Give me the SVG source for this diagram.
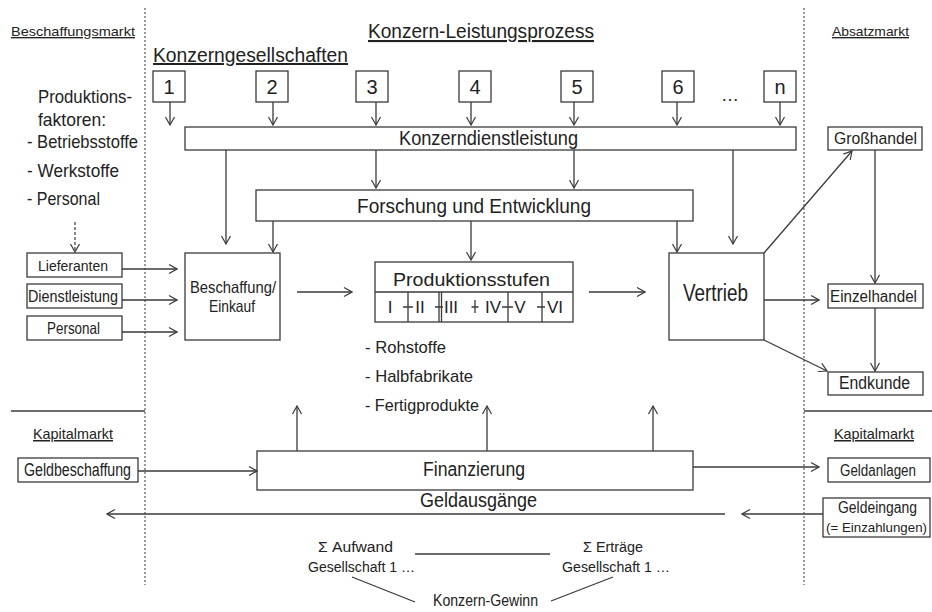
<svg xmlns="http://www.w3.org/2000/svg" width="932" height="612" viewBox="0 0 932 612">
<defs>
<marker id="arr" markerUnits="userSpaceOnUse" markerWidth="12" markerHeight="12" viewBox="0 0 12 12" refX="11" refY="6" orient="auto"><path d="M3,1.5 L11,6 L3,10.5" fill="none" stroke="#3a3a3a" stroke-width="1.2"/></marker>
<style>
text{font-family:"Liberation Sans Narrow","Liberation Sans",Arial,sans-serif;fill:#222}
.box{fill:#fff;stroke:#3a3a3a;stroke-width:1.3}
.ln{fill:none;stroke:#3a3a3a;stroke-width:1.3}
.ar{fill:none;stroke:#3a3a3a;stroke-width:1.3;marker-end:url(#arr)}
.dar{fill:none;stroke:#3a3a3a;stroke-width:1.2;stroke-dasharray:3 2;marker-end:url(#arr)}
.dot{fill:none;stroke:#7a7a7a;stroke-width:1.5;stroke-dasharray:2 2}
.c{text-anchor:middle}
.u{text-decoration:underline}
</style>
</defs>
<rect width="932" height="612" fill="#fff"/>

<g id="regions">
<line class="dot" x1="145" y1="8" x2="145" y2="585"/>
<line class="dot" x1="804" y1="8" x2="804" y2="585"/>
<line class="ln" x1="11" y1="411" x2="145" y2="411"/>
<line class="ln" x1="804" y1="411" x2="932" y2="411"/>
<text class="c u" x="73" y="36" font-size="13.5" textLength="124" lengthAdjust="spacingAndGlyphs">Beschaffungsmarkt</text>
<text class="c u" x="481" y="38" font-size="21" textLength="226" lengthAdjust="spacingAndGlyphs">Konzern-Leistungsprozess</text>
<text class="c u" x="250.5" y="62" font-size="20" textLength="195" lengthAdjust="spacingAndGlyphs">Konzerngesellschaften</text>
<text class="c u" x="870.5" y="36" font-size="13.5" textLength="77" lengthAdjust="spacingAndGlyphs">Absatzmarkt</text>
<text class="c u" x="73" y="439" font-size="15" textLength="80" lengthAdjust="spacingAndGlyphs">Kapitalmarkt</text>
<text class="c u" x="874" y="439" font-size="15" textLength="80" lengthAdjust="spacingAndGlyphs">Kapitalmarkt</text>
</g>

<g id="produktionsfaktoren" font-size="18.5">
<text x="38" y="103" textLength="94" lengthAdjust="spacingAndGlyphs">Produktions-</text>
<text x="38" y="126" textLength="68" lengthAdjust="spacingAndGlyphs">faktoren:</text>
<text x="27" y="148" textLength="111" lengthAdjust="spacingAndGlyphs">- Betriebsstoffe</text>
<text x="27" y="177" textLength="92" lengthAdjust="spacingAndGlyphs">- Werkstoffe</text>
<text x="27" y="205" textLength="73" lengthAdjust="spacingAndGlyphs">- Personal</text>
</g>

<g id="gesellschaften" font-size="20">
<g id="g1"><rect class="box" x="153" y="71" width="32" height="31"/><text class="c" x="169" y="94">1</text></g>
<g id="g2"><rect class="box" x="256" y="71" width="32" height="31"/><text class="c" x="272" y="94">2</text></g>
<g id="g3"><rect class="box" x="356" y="71" width="32" height="31"/><text class="c" x="372" y="94">3</text></g>
<g id="g4"><rect class="box" x="459" y="71" width="32" height="31"/><text class="c" x="475" y="94">4</text></g>
<g id="g5"><rect class="box" x="561" y="71" width="32" height="31"/><text class="c" x="577" y="94">5</text></g>
<g id="g6"><rect class="box" x="662" y="71" width="32" height="31"/><text class="c" x="678" y="94">6</text></g>
<text class="c" x="730" y="101" font-size="18">…</text>
<g id="gn"><rect class="box" x="764" y="71" width="32" height="31"/><text class="c" x="780" y="94">n</text></g>
</g>

<g id="konzerndienstleistung">
<rect class="box" x="185" y="127" width="611" height="23"/>
<text class="c" x="488.5" y="144.5" font-size="20" textLength="179" lengthAdjust="spacingAndGlyphs">Konzerndienstleistung</text>
</g>

<g id="forschung">
<rect class="box" x="256" y="190" width="437" height="31"/>
<text class="c" x="474" y="213" font-size="20.5" textLength="234" lengthAdjust="spacingAndGlyphs">Forschung und Entwicklung</text>
</g>

<g id="lieferanten">
<rect class="box" x="27" y="253" width="95" height="24"/>
<text class="c" x="73" y="270.5" font-size="15.5" textLength="70" lengthAdjust="spacingAndGlyphs">Lieferanten</text>
</g>
<g id="dienstleistung">
<rect class="box" x="27" y="284" width="95" height="24"/>
<text class="c" x="73" y="302" font-size="16" textLength="90" lengthAdjust="spacingAndGlyphs">Dienstleistung</text>
</g>
<g id="personal">
<rect class="box" x="27" y="316" width="95" height="24"/>
<text class="c" x="73.5" y="333.5" font-size="16.5" textLength="53" lengthAdjust="spacingAndGlyphs">Personal</text>
</g>

<g id="beschaffung">
<rect class="box" x="185" y="253" width="95" height="87"/>
<text class="c" x="233" y="293" font-size="16.5" textLength="86" lengthAdjust="spacingAndGlyphs">Beschaffung/</text>
<text class="c" x="232" y="312" font-size="16.5" textLength="46" lengthAdjust="spacingAndGlyphs">Einkauf</text>
</g>

<g id="produktionsstufen">
<rect class="box" x="375" y="262" width="198" height="60"/>
<line class="ln" x1="375" y1="292" x2="573" y2="292"/>
<text class="c" x="471.5" y="286" font-size="18.5" textLength="157" lengthAdjust="spacingAndGlyphs">Produktionsstufen</text>
<path class="ln" d="M408,292 V322 M439,292 V322 M441.5,292 V322 M508,292 V322 M542,292 V322 M475,300 V313"/>
<path class="ln" d="M403,307 H413 M435,307 H443 M471.5,307 H478.5 M502,307 H513 M537,307 H545"/>
<g font-size="17" class="c">
<text x="390" y="313">I</text>
<text x="420" y="313">II</text>
<text x="451" y="313">III</text>
<text x="493" y="313">IV</text>
<text x="520" y="313">V</text>
<text x="555" y="313">VI</text>
</g>
<g font-size="17">
<text x="365" y="352.5" textLength="81" lengthAdjust="spacingAndGlyphs">- Rohstoffe</text>
<text x="365" y="382" textLength="108" lengthAdjust="spacingAndGlyphs">- Halbfabrikate</text>
<text x="365" y="411" textLength="114" lengthAdjust="spacingAndGlyphs">- Fertigprodukte</text>
</g>
</g>

<g id="vertrieb">
<rect class="box" x="669" y="253" width="95" height="87"/>
<text class="c" x="715.5" y="301" font-size="23.5" textLength="65" lengthAdjust="spacingAndGlyphs">Vertrieb</text>
</g>

<g id="grosshandel">
<rect class="box" x="828" y="127" width="94" height="23"/>
<text class="c" x="875.5" y="144" font-size="17" textLength="83" lengthAdjust="spacingAndGlyphs">Großhandel</text>
</g>
<g id="einzelhandel">
<rect class="box" x="828" y="284" width="95" height="24"/>
<text class="c" x="873.5" y="301.5" font-size="16" textLength="87" lengthAdjust="spacingAndGlyphs">Einzelhandel</text>
</g>
<g id="endkunde">
<rect class="box" x="828" y="372" width="95" height="23"/>
<text class="c" x="874.5" y="388.5" font-size="17.5" textLength="71" lengthAdjust="spacingAndGlyphs">Endkunde</text>
</g>

<g id="geldbeschaffung">
<rect class="box" x="18" y="458" width="120" height="24"/>
<text class="c" x="77.5" y="476" font-size="18" textLength="107" lengthAdjust="spacingAndGlyphs">Geldbeschaffung</text>
</g>

<g id="finanzierung">
<rect class="box" x="257" y="451" width="436" height="39"/>
<text class="c" x="474" y="475.5" font-size="20" textLength="102" lengthAdjust="spacingAndGlyphs">Finanzierung</text>
</g>

<g id="geldausgaenge">
<text class="c" x="478.5" y="507" font-size="20" textLength="117" lengthAdjust="spacingAndGlyphs">Geldausgänge</text>
</g>

<g id="geldanlagen">
<rect class="box" x="828" y="458" width="102" height="24"/>
<text class="c" x="878" y="475.5" font-size="16" textLength="76" lengthAdjust="spacingAndGlyphs">Geldanlagen</text>
</g>
<g id="geldeingang">
<rect class="box" x="823" y="498" width="107" height="39"/>
<text class="c" x="877.5" y="512.5" font-size="16" textLength="79" lengthAdjust="spacingAndGlyphs">Geldeingang</text>
<text class="c" x="876.5" y="531.5" font-size="13.5" textLength="101" lengthAdjust="spacingAndGlyphs">(= Einzahlungen)</text>
</g>

<g id="gewinn" font-size="15.5">
<text class="c" x="355.5" y="551.5" textLength="75" lengthAdjust="spacingAndGlyphs">Σ Aufwand</text>
<text class="c" x="361.5" y="571.5" textLength="107" lengthAdjust="spacingAndGlyphs">Gesellschaft 1 …</text>
<text class="c" x="613" y="551.5" textLength="60" lengthAdjust="spacingAndGlyphs">Σ Erträge</text>
<text class="c" x="616" y="571.5" textLength="108" lengthAdjust="spacingAndGlyphs">Gesellschaft 1 …</text>
<text class="c" x="485.5" y="606" font-size="16" textLength="105" lengthAdjust="spacingAndGlyphs">Konzern-Gewinn</text>
</g>

<g id="connectors">
<path class="ar" d="M170,102 V125"/>
<path class="ar" d="M273,102 V125"/>
<path class="ar" d="M376,102 V125"/>
<path class="ar" d="M471,102 V125"/>
<path class="ar" d="M574,102 V125"/>
<path class="ar" d="M677,102 V125"/>
<path class="ar" d="M780,102 V125"/>
<path class="ar" d="M226,150 V244"/>
<path class="ar" d="M376,150 V188"/>
<path class="ar" d="M574,150 V188"/>
<path class="ar" d="M733,150 V244"/>
<path class="ar" d="M273,221 V252"/>
<path class="ar" d="M471,221 V260"/>
<path class="ar" d="M677,221 V252"/>
<path class="dar" d="M75,222 V252"/>
<path class="ar" d="M122,269 H177"/>
<path class="ar" d="M122,300 H177"/>
<path class="ar" d="M122,332 H177"/>
<path class="ar" d="M297,292 H352"/>
<path class="ar" d="M589,292 H645"/>
<path class="ar" d="M764,253 L852,151"/>
<path class="ar" d="M764,300 H819"/>
<path class="ar" d="M764,340 L827,371"/>
<path class="ar" d="M875,150 V283"/>
<path class="ar" d="M875,308 V371"/>
<path class="ar" d="M297,451 V406"/>
<path class="ar" d="M487,451 V406"/>
<path class="ar" d="M653,451 V406"/>
<path class="ar" d="M138,471 H257"/>
<path class="ar" d="M693,467 H819"/>
<path class="ar" d="M725,514 H107"/>
<path class="ar" d="M823,514 H742"/>
<path class="ln" d="M415,554 H550"/>
<path class="ln" d="M352,577 L415,602"/>
<path class="ln" d="M613,577 L551,601"/>
</g>
</svg>
